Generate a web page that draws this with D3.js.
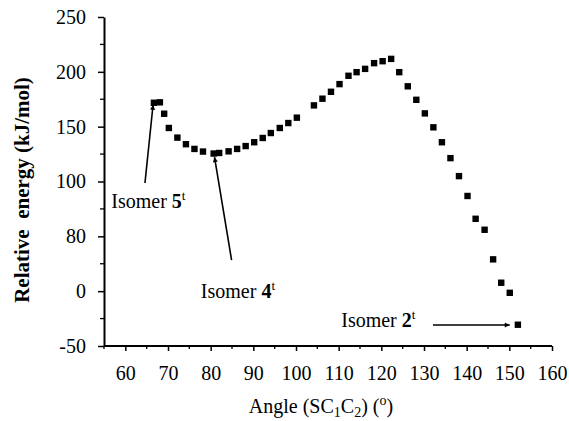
<!DOCTYPE html>
<html><head><meta charset="utf-8">
<script src="https://cdn.jsdelivr.net/npm/d3@7"></script>
<style>body{margin:0;background:#fff}svg{display:block}text{font-family:'Liberation Serif','Times New Roman',serif}</style>
</head><body>
<svg id="c" width="569" height="421"></svg>
<script>
const angles = [66.7, 68.1, 69.1, 70.2, 72.2, 74.2, 76.2, 78.2, 80.7, 82.0, 84.2, 86.2, 88.2, 90.2, 92.2, 94.1, 96.2, 98.2, 100.2, 104.2, 106.2, 108.2, 110.2, 112.3, 114.2, 116.2, 118.3, 120.3, 122.3, 124.2, 126.2, 128.2, 130.2, 132.2, 134.2, 136.2, 138.2, 140.2, 142.1, 144.2, 146.2, 148.1, 150.1, 152.0];
const energies = [171.8, 172.2, 161.8, 148.8, 140, 134, 129.7, 127.3, 125.5, 126, 127.5, 129.7, 132.3, 135.8, 139.7, 144.2, 148.8, 153.3, 158.2, 169.4, 175.5, 181.8, 188.8, 196.4, 199.7, 202.7, 207.9, 209.7, 211.8, 199.7, 186.8, 174.5, 162.1, 149.4, 135.8, 121.3, 104.9, 86.8, 66, 56, 29, 7.7, -1.5, -30.6];
const xTicks = [60, 70, 80, 90, 100, 110, 120, 130, 140, 150, 160];
const yTicks = [-50, 0, 50, 100, 150, 200, 250];
const yTickLabels = ["-50", "0", "80", "100", "150", "200", "250"];
const isomerNames = ["5", "4", "2"];
const labelPos = [[56.7, 75.8], [77.7, -6.2], [110.6, -32.7]];
const arrowFrom = [[64.6, 98.6], [84.9, 28.4], [132.1, -30.9]];
const arrowTo = [[66.5, 170], [80.9, 122.3], [150.1, -30.9]];

const svg = d3.select("#c");
const x = d3.scaleLinear().domain([55, 160]).range([104, 552]);
const y = d3.scaleLinear().domain([-50, 250]).range([346, 17]);
const font = "'Liberation Serif','Times New Roman',serif";

svg.append("defs").append("marker").attr("id","ah").attr("viewBox","0 0 10 10")
  .attr("refX",10).attr("refY",5).attr("markerWidth",9).attr("markerHeight",5)
  .attr("markerUnits","userSpaceOnUse").attr("orient","auto")
  .append("path").attr("d","M0,0L10,5L0,10z").attr("fill","#000");

// minor ticks
const xMinor = d3.range(55, 161, 5).filter(v => !xTicks.includes(v));
svg.append("g").selectAll("line").data(xMinor).join("line")
  .attr("x1", d => x(d)).attr("x2", d => x(d)).attr("y1", y(-50)).attr("y2", y(-50) + 3)
  .attr("stroke", "#000").attr("stroke-width", 1.3);
const yMinor = d3.range(-25, 250, 50);
svg.append("g").selectAll("line").data(yMinor).join("line")
  .attr("x1", x(55) - 4).attr("x2", x(55)).attr("y1", d => y(d)).attr("y2", d => y(d))
  .attr("stroke", "#000").attr("stroke-width", 1.3);

const gx = svg.append("g").attr("transform", `translate(0,${y(-50)})`)
  .call(d3.axisBottom(x).tickValues(xTicks).tickSize(5).tickSizeOuter(0).tickPadding(15));
const gy = svg.append("g").attr("transform", `translate(${x(55)},0)`)
  .call(d3.axisLeft(y).tickValues(yTicks).tickSize(6).tickSizeOuter(0).tickPadding(12)
    .tickFormat(d => yTickLabels[yTicks.indexOf(d)]));
[gx, gy].forEach(g => {
  g.attr("font-family", null);
  g.select(".domain").attr("stroke-width", 2);
  g.selectAll(".tick line").attr("stroke-width", 1.5);
  g.selectAll("text").style("font-family", font).style("font-size", "20px").attr("fill", "#000");
});
gx.selectAll(".domain").attr("d", `M${x(55)},0H${x(160)}`);

// points
svg.append("g").selectAll("rect").data(angles).join("rect")
  .attr("x", (d) => x(d) - 3.2).attr("y", (d, i) => y(energies[i]) - 3.2)
  .attr("width", 6.4).attr("height", 6.4).attr("fill", "#000");

// annotations
isomerNames.forEach((n, i) => {
  const t = svg.append("text").attr("x", x(labelPos[i][0])).attr("y", y(labelPos[i][1]))
    .style("font-family", font).style("font-size", "20px").attr("fill", "#000");
  t.append("tspan").text("Isomer ");
  t.append("tspan").attr("font-weight", "bold").text(n);
  t.append("tspan").style("font-size", "13px").attr("dy", -8).text("t");
  svg.append("line").attr("x1", x(arrowFrom[i][0])).attr("y1", y(arrowFrom[i][1]))
    .attr("x2", x(arrowTo[i][0])).attr("y2", y(arrowTo[i][1]))
    .attr("stroke", "#000").attr("stroke-width", 1.6).attr("marker-end", "url(#ah)");
});

// axis titles
const xt = svg.append("text").attr("x", 321).attr("y", 413).attr("text-anchor", "middle")
  .style("font-family", font).style("font-size", "20px").attr("fill", "#000");
xt.append("tspan").text("Angle (SC");
xt.append("tspan").style("font-size", "14px").attr("dy", 4).text("1");
xt.append("tspan").attr("dy", -4).text("C");
xt.append("tspan").style("font-size", "14px").attr("dy", 4).text("2");
xt.append("tspan").attr("dy", -4).text(") (");
xt.append("tspan").style("font-size", "14px").attr("dy", -8).text("o");
xt.append("tspan").attr("dy", 8).text(")");

svg.append("text").attr("transform", "translate(29,190) rotate(-90)").attr("text-anchor", "middle")
  .style("font-family", font).style("font-size", "21px").attr("font-weight", "bold").attr("fill", "#000")
  .style("white-space", "pre")
  .text("Relative  energy (kJ/mol)");
</script>
</body></html>
